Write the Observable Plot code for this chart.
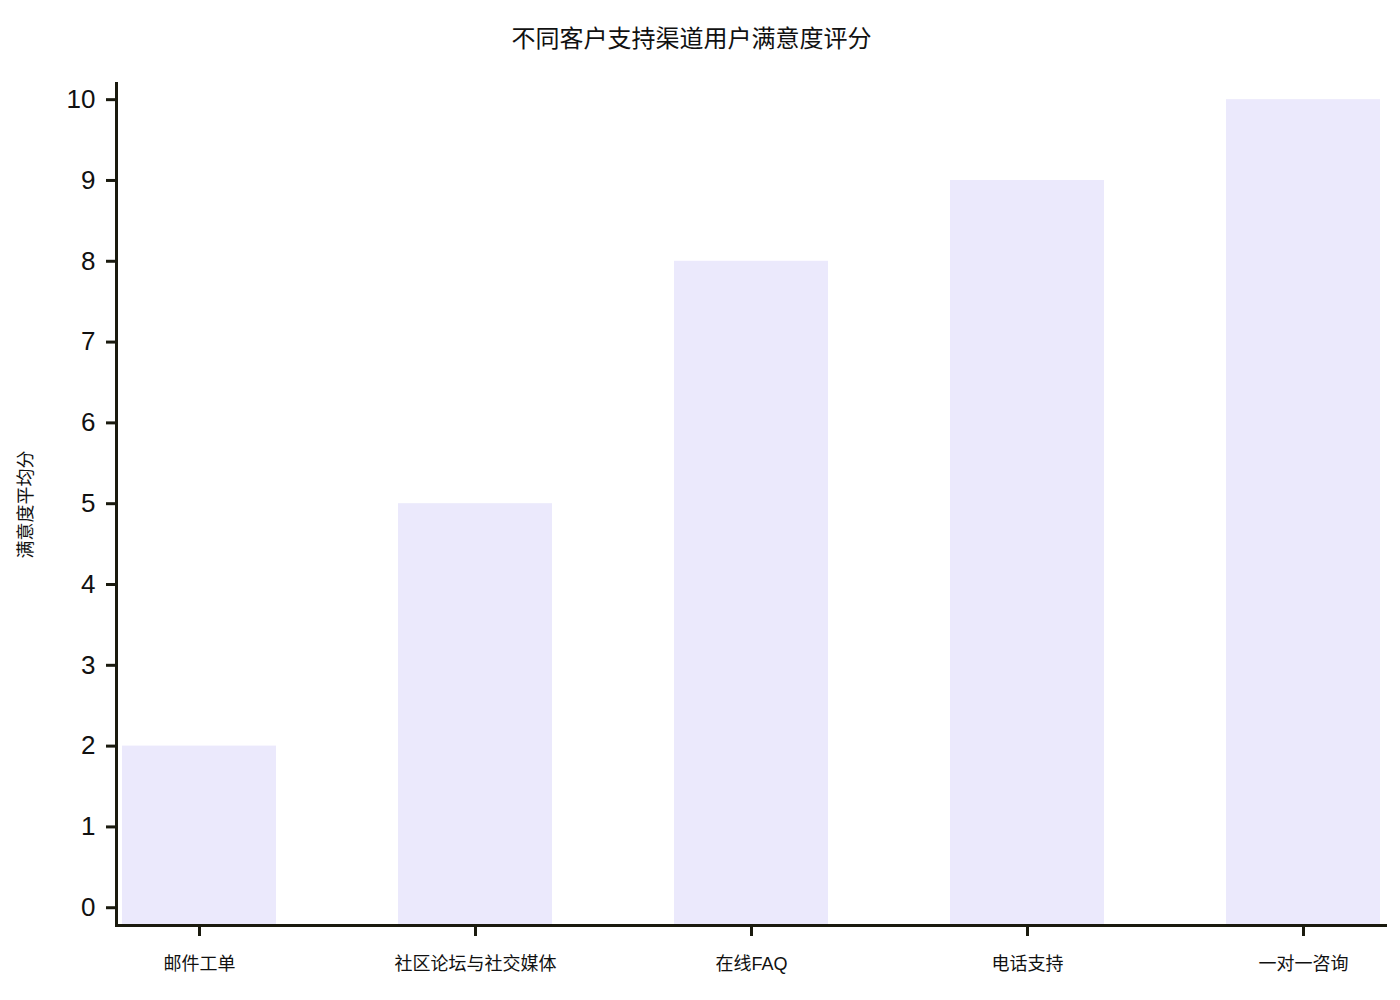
<!DOCTYPE html>
<html>
<head>
<meta charset="utf-8">
<script src="https://cdn.jsdelivr.net/npm/d3@7"></script>
<script src="https://cdn.jsdelivr.net/npm/@observablehq/plot@0.6"></script>
<style>
  html, body { margin: 0; padding: 0; background: #fff; }
  #wrap { width: 1400px; height: 1000px; position: relative; }
  #title { height: 70px; line-height: 74px; text-align: center; width: 1383px;
           font-family: "Noto Sans CJK SC", "Liberation Sans", sans-serif; font-size: 24px; color: #111; }
</style>
</head>
<body>
<div id="wrap">
  <div id="title"></div>
  <div id="chart"></div>
</div>
<script>
const titleText = "不同客户支持渠道用户满意度评分";
const yLabel = "满意度平均分";
const channels = ["邮件工单", "社区论坛与社交媒体", "在线FAQ", "电话支持", "一对一咨询"];
const scores = [2, 5, 8, 9, 10];
const yTicks = [0, 1, 2, 3, 4, 5, 6, 7, 8, 9, 10];

document.getElementById("title").textContent = titleText;

const data = channels.map((c, i) => ({channel: c, score: scores[i]}));
const ink = "#1a1a0e";

const chart = Plot.plot({
  width: 1400,
  height: 930,
  marginTop: 13,
  marginBottom: 75,
  marginLeft: 118,
  marginRight: 15,
  style: {fontFamily: "'Liberation Sans', 'Noto Sans CJK SC', sans-serif", color: "#111", background: "#fff"},
  x: {domain: channels, paddingInner: 0.442, paddingOuter: 0.016, align: 0.5, label: null},
  y: {domain: [-0.22, 10.2], label: null},
  marks: [
    Plot.barY(data, {x: "channel", y: "score", fill: "#ebe9fc", insetBottom: -18}),
    Plot.axisY({ticks: yTicks, tickFormat: d => String(d), tickSize: 10, tickPadding: 11,
                strokeWidth: 3, stroke: ink, fontSize: 26, dx: -2, label: null}),
    Plot.axisX({tickSize: 11, tickPadding: 21, strokeWidth: 3, stroke: ink, fontSize: 18, label: null}),
    Plot.frame({anchor: "left", stroke: ink, strokeWidth: 3, dx: -2}),
    Plot.frame({anchor: "bottom", stroke: ink, strokeWidth: 3}),
    Plot.text([yLabel], {frameAnchor: "left", textAnchor: "middle", rotate: -90, dx: -92, fontSize: 18,
                         fontFamily: "'Noto Sans CJK SC', sans-serif", fill: "#111"})
  ]
});
document.getElementById("chart").appendChild(chart);
</script>
</body>
</html>
